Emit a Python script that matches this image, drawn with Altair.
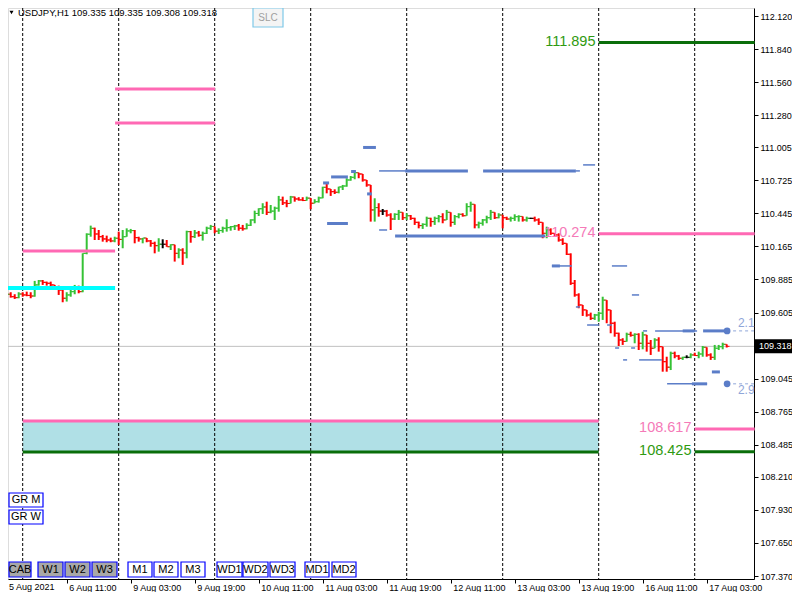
import altair as alt
import pandas as pd

# ---------------- data (USDJPY H1) ----------------
first_open = 109.754
highs = [
    109.754, 109.777, 109.777, 109.760, 109.777, 109.777, 109.782, 109.777, 109.873, 109.881,
    109.881, 109.867, 109.867, 109.839, 109.833, 109.788, 109.777, 109.796, 109.839, 109.833,
    110.107, 110.277, 110.342, 110.325, 110.305, 110.263, 110.257, 110.240, 110.248, 110.291,
    110.305, 110.319, 110.314, 110.305, 110.248, 110.235, 110.226, 110.220, 110.206, 110.235,
    110.226, 110.220, 110.184, 110.163, 110.150, 110.150, 110.299, 110.297, 110.305, 110.297,
    110.291, 110.333, 110.348, 110.333, 110.319, 110.333, 110.396, 110.339, 110.348, 110.356,
    110.348, 110.362, 110.396, 110.469, 110.489, 110.532, 110.545, 110.517, 110.503, 110.594,
    110.588, 110.560, 110.594, 110.588, 110.583, 110.583, 110.588, 110.566, 110.566, 110.588,
    110.672, 110.706, 110.650, 110.650, 110.672, 110.687, 110.744, 110.763, 110.800, 110.791,
    110.780, 110.715, 110.687, 110.574, 110.532, 110.483, 110.475, 110.447, 110.447, 110.475,
    110.432, 110.447, 110.432, 110.409, 110.376, 110.362, 110.418, 110.409, 110.418, 110.432,
    110.447, 110.475, 110.426, 110.432, 110.447, 110.447, 110.532, 110.545, 110.489, 110.376,
    110.398, 110.426, 110.475, 110.447, 110.447, 110.432, 110.418, 110.418, 110.438, 110.430,
    110.418, 110.418, 110.409, 110.418, 110.404, 110.362, 110.333, 110.319, 110.277, 110.277,
    110.235, 110.192, 110.107, 109.881, 109.768, 109.669, 109.627, 109.604, 109.593, 109.612,
    109.739, 109.669, 109.612, 109.527, 109.434, 109.387, 109.434, 109.442, 109.429, 109.429,
    109.442, 109.400, 109.372, 109.387, 109.395, 109.287, 109.230, 109.273, 109.273, 109.245,
    109.230, 109.242, 109.259, 109.264, 109.273, 109.321, 109.287, 109.259, 109.330, 109.330,
    109.349, 109.335]
lows = [
    109.684, 109.705, 109.731, 109.720, 109.726, 109.739, 109.743, 109.726, 109.739, 109.833,
    109.839, 109.833, 109.816, 109.796, 109.754, 109.692, 109.698, 109.739, 109.760, 109.768,
    109.777, 110.099, 110.248, 110.220, 110.220, 110.206, 110.201, 110.201, 110.201, 110.178,
    110.150, 110.248, 110.277, 110.192, 110.206, 110.192, 110.201, 110.163, 110.107, 110.121,
    110.150, 110.163, 110.135, 110.037, 110.065, 110.009, 110.065, 110.197, 110.237, 110.248,
    110.215, 110.271, 110.305, 110.277, 110.271, 110.282, 110.291, 110.299, 110.305, 110.299,
    110.299, 110.311, 110.339, 110.362, 110.424, 110.441, 110.432, 110.447, 110.390, 110.460,
    110.517, 110.498, 110.532, 110.545, 110.554, 110.550, 110.554, 110.481, 110.532, 110.537,
    110.574, 110.616, 110.594, 110.610, 110.616, 110.644, 110.672, 110.723, 110.735, 110.744,
    110.715, 110.672, 110.376, 110.376, 110.418, 110.432, 110.418, 110.305, 110.390, 110.390,
    110.390, 110.390, 110.390, 110.348, 110.319, 110.314, 110.333, 110.333, 110.348, 110.370,
    110.362, 110.390, 110.333, 110.348, 110.404, 110.418, 110.432, 110.460, 110.319, 110.319,
    110.342, 110.362, 110.390, 110.398, 110.404, 110.319, 110.390, 110.376, 110.382, 110.376,
    110.376, 110.376, 110.398, 110.376, 110.348, 110.235, 110.235, 110.263, 110.248, 110.206,
    110.178, 110.093, 109.839, 109.739, 109.641, 109.576, 109.570, 109.542, 109.542, 109.527,
    109.542, 109.514, 109.429, 109.400, 109.321, 109.330, 109.358, 109.400, 109.344, 109.287,
    109.293, 109.273, 109.245, 109.302, 109.273, 109.103, 109.103, 109.117, 109.217, 109.203,
    109.203, 109.217, 109.217, 109.236, 109.217, 109.230, 109.230, 109.203, 109.203, 109.287,
    109.293, 109.308]
closes = [
    109.710, 109.760, 109.739, 109.731, 109.762, 109.754, 109.750, 109.745, 109.839, 109.873,
    109.861, 109.853, 109.839, 109.811, 109.796, 109.726, 109.754, 109.782, 109.805, 109.782,
    110.107, 110.269, 110.319, 110.271, 110.248, 110.229, 110.220, 110.212, 110.235, 110.225,
    110.248, 110.297, 110.300, 110.240, 110.229, 110.237, 110.212, 110.192, 110.172, 110.184,
    110.184, 110.163, 110.180, 110.107, 110.135, 110.110, 110.291, 110.248, 110.280, 110.260,
    110.277, 110.320, 110.335, 110.295, 110.300, 110.320, 110.325, 110.333, 110.340, 110.320,
    110.315, 110.345, 110.390, 110.445, 110.485, 110.500, 110.455, 110.465, 110.490, 110.560,
    110.535, 110.530, 110.585, 110.568, 110.560, 110.555, 110.575, 110.532, 110.545, 110.577,
    110.667, 110.653, 110.630, 110.625, 110.670, 110.678, 110.729, 110.752, 110.791, 110.780,
    110.729, 110.687, 110.475, 110.495, 110.465, 110.465, 110.432, 110.398, 110.438, 110.455,
    110.409, 110.426, 110.404, 110.370, 110.342, 110.353, 110.404, 110.376, 110.404, 110.418,
    110.390, 110.455, 110.370, 110.418, 110.438, 110.426, 110.503, 110.523, 110.348, 110.362,
    110.390, 110.409, 110.455, 110.409, 110.432, 110.409, 110.398, 110.404, 110.418, 110.420,
    110.390, 110.404, 110.404, 110.390, 110.370, 110.277, 110.305, 110.277, 110.263, 110.220,
    110.192, 110.099, 109.853, 109.754, 109.669, 109.627, 109.584, 109.556, 109.584, 109.599,
    109.710, 109.627, 109.514, 109.429, 109.372, 109.360, 109.420, 109.412, 109.420, 109.344,
    109.415, 109.344, 109.302, 109.372, 109.315, 109.188, 109.141, 109.259, 109.236, 109.217,
    109.225, 109.225, 109.245, 109.240, 109.253, 109.310, 109.245, 109.225, 109.302, 109.315,
    109.335, 109.318]

current_price = 109.318
header_text = "USDJPY,H1  109.335 109.335 109.308 109.318"

first_axis_label = "5 Aug 2021"
x_tick_bars = [16, 32, 48, 64, 80, 96, 112, 128, 144, 160, 176]
x_tick_labels = ["6 Aug 11:00", "9 Aug 03:00", "9 Aug 19:00", "10 Aug 11:00",
                 "11 Aug 03:00", "11 Aug 19:00", "12 Aug 11:00", "13 Aug 03:00",
                 "13 Aug 19:00", "16 Aug 11:00", "17 Aug 03:00"]
y_ticks = [112.120, 111.840, 111.560, 111.280, 111.005, 110.725, 110.445, 110.165, 109.885,
           109.605, 109.045, 108.765, 108.485, 108.210, 107.930, 107.650, 107.370]
day_separators = [5, 29, 53, 77, 101, 125, 149, 173]

# levels: (start bar, end bar, price)
pink_levels = [(5, 28.1, 110.127), (28.1, 53.1, 111.501), (28.1, 53.1, 111.213),
               (149, 188, 110.274), (173, 188, 108.617), (5, 149, 108.685)]
green_levels = [(149, 188, 111.895), (173, 188, 108.425), (5, 149, 108.422)]
cyan_levels = [(0, 28.1, 109.813)]
zone = [(5, 149, 108.685, 108.422)]
level_labels = [("111.895", 149, 111.895, "green"), ("110.274", 149, 110.274, "pink"),
                ("108.617", 173, 108.617, "pink"), ("108.425", 173, 108.425, "green")]

blue_thick = [(90.1, 93.3, 111.005), (100.6, 116.3, 110.806), (120.1, 143.3, 110.806),
              (80.1, 81.6, 110.704), (82.1, 86.3, 110.755), (87.1, 88.3, 110.801),
              (91.1, 92.3, 110.611), (81.1, 86.3, 110.360), (98.1, 135.6, 110.254),
              (137.3, 139.3, 110.000), (170.0, 173.0, 109.449), (175.1, 181.3, 109.449),
              (177.3, 179.3, 109.101), (172.3, 176.1, 109.000)]
blue_thin = [(94.1, 100.6, 110.806), (143.3, 144.3, 110.806), (145.1, 148.1, 110.857),
             (94.1, 96.1, 110.305), (137.3, 142.3, 110.000), (152.3, 156.1, 110.000),
             (157.3, 159.1, 109.754), (143.3, 144.3, 109.652), (146.1, 149.1, 109.499),
             (151.1, 152.3, 109.499), (160.1, 161.1, 109.449), (163.1, 173.6, 109.449),
             (153.1, 154.1, 109.304), (157.1, 158.1, 109.304), (155.1, 156.1, 109.203),
             (159.1, 164.8, 109.203), (166.1, 176.1, 109.000)]
blue_markers = [(181.1, 109.449, "2.1", "above"), (181.1, 109.000, "2.9", "below")]

# ---------------- styles / layout ----------------
FONT = "Liberation Sans"
PINK = "#ff69b4"
GREEN = "#0a6e0a"
BLUE = "#5b7dc8"
PLOT_W, PLOT_H = 746, 571
Y_TOP, Y_BOT = 112.1879, 107.3446
XS = alt.Scale(domain=[1.325, 187.825], nice=False, zero=False)
YS = alt.Scale(domain=[Y_BOT, Y_TOP], nice=False, zero=False)

label_arr = "[" + ",".join("'" + s + "'" for s in x_tick_labels) + "]"
XAX = alt.Axis(values=x_tick_bars, labelExpr=label_arr + "[round(datum.value/16) - 1]",
               title=None, grid=False, tickSize=4, labelAlign="left", labelOffset=2,
               labelPadding=0, labelFontSize=9, labelFont=FONT, labelColor="black",
               domainColor="black", tickColor="black", labelOverlap=False, labelFlush=False)
YAX = alt.Axis(orient="right", values=y_ticks, format=".3f", title=None, grid=False,
               tickSize=4, labelPadding=2, labelFontSize=9, labelFont=FONT,
               labelColor="black", domainColor="black", tickColor="black",
               labelOverlap=False, labelFlush=False)


def X(f):
    return alt.X(f"{f}:Q", scale=XS, axis=XAX)


def Y(f):
    return alt.Y(f"{f}:Q", scale=YS, axis=YAX)


def seg_df(rows):
    return pd.DataFrame(rows, columns=["x0", "x1", "p"])


# ---------------- OHLC frame ----------------
n = len(closes)
opens = [first_open] + closes[:-1]
bars = pd.DataFrame({"i": list(range(n)), "o": opens, "h": highs, "l": lows, "c": closes})
bars["h"] = bars[["h", "o", "c"]].max(axis=1)
bars["l"] = bars[["l", "o", "c"]].min(axis=1)
bars["dir"] = ["up" if c > o else ("down" if c < o else "flat") for o, c in zip(bars.o, bars.c)]
bars["il"] = bars.i - 0.7
bars["ir"] = bars.i + 0.7
COL = alt.Color("dir:N", scale=alt.Scale(domain=["up", "down", "flat"],
                                         range=["#35c235", "#ff0000", "#000000"]), legend=None)

layers = []
zdf = pd.DataFrame(zone, columns=["x0", "x1", "p0", "p1"])
layers.append(alt.Chart(zdf).mark_rect(color="#b0e0e6").encode(x=X("x0"), x2="x1", y=Y("p0"), y2="p1"))
layers.append(alt.Chart(pd.DataFrame({"i": day_separators})).mark_rule(
    color="black", strokeDash=[3, 2], strokeWidth=1).encode(x=X("i")))
layers.append(alt.Chart(pd.DataFrame({"p": [current_price]})).mark_rule(
    color="#c0c0c0", strokeWidth=1).encode(y=Y("p")))

base = alt.Chart(bars)
layers.append(base.mark_rule(strokeWidth=2).encode(x=X("i"), y=Y("h"), y2="l", color=COL))
layers.append(base.mark_rule(strokeWidth=1).encode(x=X("il"), x2="i", y=Y("o"), color=COL))
layers.append(base.mark_rule(strokeWidth=1).encode(x=X("i"), x2="ir", y=Y("c"), color=COL))

layers.append(alt.Chart(seg_df(cyan_levels)).mark_rule(color="#00ffff", strokeWidth=4).encode(
    x=X("x0"), x2="x1", y=Y("p")))
layers.append(alt.Chart(seg_df(pink_levels)).mark_rule(color=PINK, strokeWidth=3).encode(
    x=X("x0"), x2="x1", y=Y("p")))
layers.append(alt.Chart(seg_df(green_levels)).mark_rule(color=GREEN, strokeWidth=3).encode(
    x=X("x0"), x2="x1", y=Y("p")))
layers.append(alt.Chart(seg_df(blue_thin)).mark_rule(color=BLUE, strokeWidth=1.5).encode(
    x=X("x0"), x2="x1", y=Y("p")))
layers.append(alt.Chart(seg_df(blue_thick)).mark_rule(color=BLUE, strokeWidth=3).encode(
    x=X("x0"), x2="x1", y=Y("p")))

mk = pd.DataFrame(blue_markers, columns=["x", "p", "t", "side"])
mk["xe"] = 188
mk["xt"] = mk.x + 2.7
layers.append(alt.Chart(mk).mark_rule(color="#8fa6d9", strokeDash=[3, 3], strokeWidth=1).encode(
    x=X("x"), x2="xe", y=Y("p")))
layers.append(alt.Chart(mk).mark_circle(color=BLUE, size=45, opacity=1).encode(x=X("x"), y=Y("p")))
layers.append(alt.Chart(mk[mk.side == "above"]).mark_text(
    align="left", baseline="bottom", dy=-1, fontSize=12, font=FONT, color="#8fa6d9").encode(
    x=X("xt"), y=Y("p"), text="t:N"))
layers.append(alt.Chart(mk[mk.side == "below"]).mark_text(
    align="left", baseline="top", dy=1, fontSize=12, font=FONT, color="#8fa6d9").encode(
    x=X("xt"), y=Y("p"), text="t:N"))

ll = pd.DataFrame(level_labels, columns=["t", "x", "p", "kind"])
ll["xa"] = ll.x - 0.8
for kind, colr in [("green", "#2f9a10"), ("pink", "#f57ab8")]:
    layers.append(alt.Chart(ll[ll.kind == kind]).mark_text(
        align="right", baseline="middle", dy=-1, fontSize=14.5, font=FONT, color=colr).encode(
        x=X("xa"), y=Y("p"), text="t:N"))

# current price box on the axis
cp = pd.DataFrame({"p": [current_price], "t": [f"{current_price:.3f}"]})
half = 7 * (Y_TOP - Y_BOT) / PLOT_H
cp["p0"] = cp.p + half
cp["p1"] = cp.p - half
layers.append(alt.Chart(cp).mark_rect(color="black").encode(
    x=alt.value(PLOT_W), x2=alt.value(PLOT_W + 38), y=Y("p0"), y2="p1"))
layers.append(alt.Chart(cp).mark_text(align="left", baseline="middle", color="white",
                                      fontSize=9, font=FONT).encode(
    x=alt.value(PLOT_W + 5), y=Y("p"), text="t:N"))

# first date label (its bar is at the left border of the visible plot)
layers.append(alt.Chart(pd.DataFrame({"t": [first_axis_label]})).mark_text(
    align="left", baseline="top", fontSize=9, font=FONT, color="black").encode(
    x=alt.value(1), y=alt.value(PLOT_H + 4), text="t:N"))

# header and on-chart buttons (pixel layout)
layers.append(alt.Chart(pd.DataFrame({"t": [header_text]})).mark_text(
    align="left", baseline="middle", fontSize=9.5, font=FONT, color="black").encode(
    x=alt.value(10), y=alt.value(5), text="t:N"))
layers.append(alt.Chart(pd.DataFrame({"a": [0]})).mark_point(
    shape="triangle-down", filled=True, color="black", size=16, opacity=1).encode(
    x=alt.value(3.5), y=alt.value(4.5)))

buttons = pd.DataFrame([
    ("SLC", 245, 275, 0, 19, "slc"),
    ("GR M", 1, 35, 485, 499, "white"), ("GR W", 1, 35, 502, 516, "white"),
    ("CAB", 1, 23, 554, 569, "gray"), ("W1", 30, 55, 554, 569, "gray"),
    ("W2", 57, 82, 554, 569, "gray"), ("W3", 84, 109, 554, 569, "gray"),
    ("M1", 120, 144, 554, 569, "white"), ("M2", 146, 170, 554, 569, "white"),
    ("M3", 173, 197, 554, 569, "white"), ("WD1", 209, 234, 554, 569, "white"),
    ("WD2", 235, 260, 554, 569, "white"), ("WD3", 262, 287, 554, 569, "white"),
    ("MD1", 297, 321, 554, 569, "white"), ("MD2", 324, 348, 554, 569, "white"),
], columns=["t", "x0", "x1", "y0", "y1", "kind"])
buttons["xc"] = (buttons.x0 + buttons.x1) / 2
buttons["yc"] = (buttons.y0 + buttons.y1) / 2
PX = dict(scale=None, axis=None)
for kind, fill, stroke, tcol, fs in [("white", "white", "#0000ff", "black", 11),
                                     ("gray", "#a8a8a8", "#0000ff", "black", 11),
                                     ("slc", "#f4f4f4", "#7ec8e8", "#a0a0a0", 10)]:
    sub = buttons[buttons.kind == kind]
    layers.append(alt.Chart(sub).mark_rect(fill=fill, stroke=stroke, strokeWidth=1.2).encode(
        x=alt.X("x0:Q", **PX), x2="x1", y=alt.Y("y0:Q", **PX), y2="y1"))
    layers.append(alt.Chart(sub).mark_text(align="center", baseline="middle", fontSize=fs,
                                           font=FONT, color=tcol).encode(
        x=alt.X("xc:Q", **PX), y=alt.Y("yc:Q", **PX), text="t:N"))

chart = alt.layer(*layers).properties(
    width=PLOT_W, height=PLOT_H,
    autosize=alt.AutoSizeParams(type="none"),
    padding={"left": 0, "top": 0, "right": 38, "bottom": 13},
).configure_view(stroke="black", strokeWidth=1).configure(font=FONT)

chart.save("out.html", embed_options={"renderer": "svg", "actions": False})
